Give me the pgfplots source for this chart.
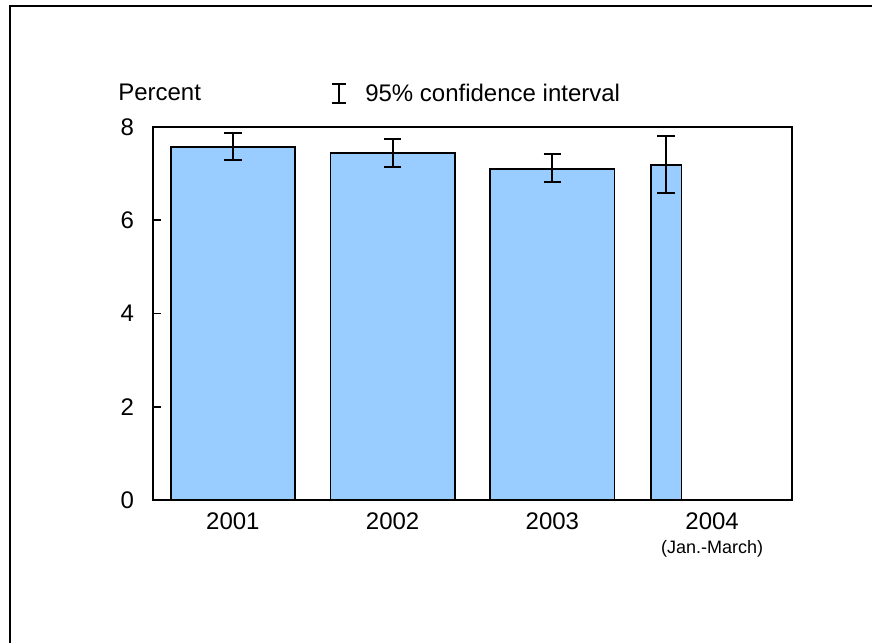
\documentclass[border=0pt]{standalone}
\usepackage{fontspec}
\setmainfont{Liberation Sans}
\usepackage{pgfplots}
\pgfplotsset{compat=1.18}

\definecolor{barblue}{RGB}{153,204,255}

% full years
\pgfplotstableread{
x     y     ep    em
0     7.57  0.30  0.28
1     7.44  0.30  0.30
2     7.10  0.33  0.28
}\years
% first quarter of 2004
\pgfplotstableread{
x      y     ep    em
2.713  7.19  0.62  0.60
}\quarter

\begin{document}
\begin{tikzpicture}
\useasboundingbox (0,0) rectangle (654pt,482.25pt);
% outer frame (right and bottom edges fall off the page)
\draw[line width=1.5pt] (7.5pt,-20pt) -- (7.5pt,477.75pt) -- (680pt,477.75pt);

\begin{axis}[
    at={(114.75pt,107.25pt)}, anchor=south west,
    scale only axis,
    width=479.25pt, height=279.75pt,
    xmin=-0.5, xmax=3.5,
    ymin=0, ymax=8,
    ytick={0,2,4,6,8},
    xtick={0,1,2,3},
    xticklabels={2001,2002,2003,{2004\\[-3pt]{\fontsize{13.5}{15}\selectfont(Jan.-March)}}},
    xtick style={draw=none},
    ytick style={draw=none},
    ytick pos=left,
    axis line style={line width=1.5pt},
    /pgf/number format/assume math mode=true,
    tick label style={font=\fontsize{18}{21}\selectfont},
    yticklabel style={inner sep=0pt, xshift=-14pt},
    xticklabel style={inner sep=0pt, yshift=-5.25pt, align=center},
    ybar, bar shift=0pt,
    clip=false,
]
\addplot[fill=barblue, draw=black, line width=1.3pt, bar width=0.777,
    error bars/.cd, y dir=both, y explicit, error mark=|,
    error bar style={line width=1.4pt, black},
    error mark options={line width=1.5pt, mark size=6.6pt, black}]
    table[x=x, y=y, y error plus=ep, y error minus=em] {\years};
\addplot[fill=barblue, draw=black, line width=1.3pt, bar width=0.192,
    error bars/.cd, y dir=both, y explicit, error mark=|,
    error bar style={line width=1.4pt, black},
    error mark options={line width=1.5pt, mark size=6.6pt, black}]
    table[x=x, y=y, y error plus=ep, y error minus=em] {\quarter};
\end{axis}

% short inner ticks on the left edge (at 2, 4, 6)
\foreach \ty in {177.19,247.125,317.06}
    \draw[line width=1.4pt] (114.75pt,\ty pt) -- (120.75pt,\ty pt);

% labels above the plot
\node[anchor=west, inner sep=0pt, font=\fontsize{18}{21}\selectfont] at (88.5pt,413.25pt) {Percent};
\draw[line width=0.9pt] (249pt,419.25pt) -- (259.5pt,419.25pt)
    (254.25pt,419.25pt) -- (254.25pt,405pt)
    (249pt,405pt) -- (259.5pt,405pt);
\node[anchor=west, inner sep=0pt, font=\fontsize{18}{21}\selectfont] at (273.75pt,412.5pt) {95\% confidence interval};
\end{tikzpicture}
\end{document}
